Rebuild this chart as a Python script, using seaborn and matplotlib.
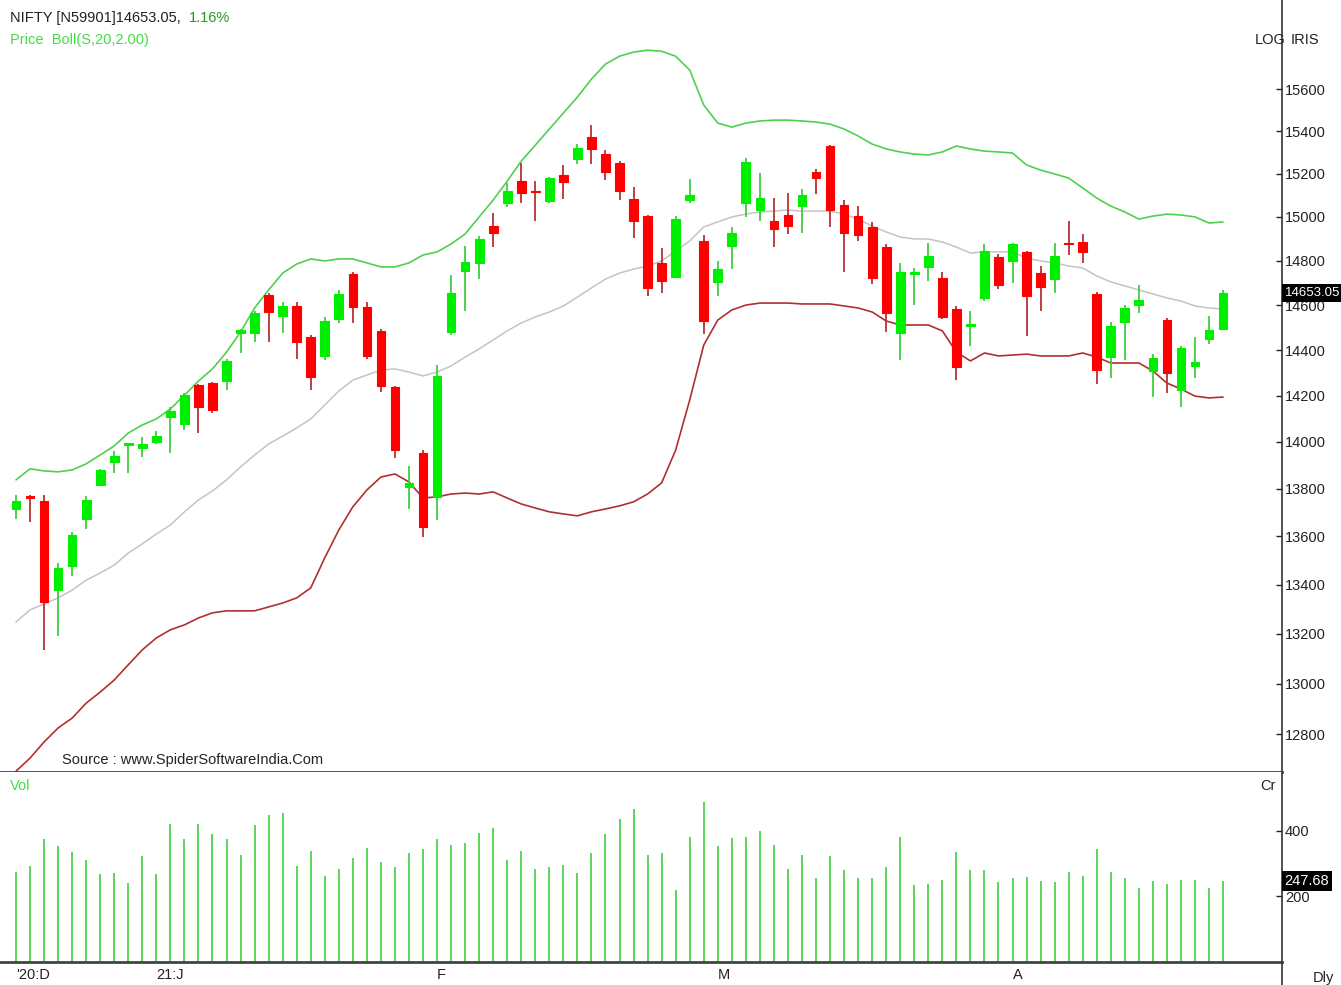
import matplotlib
matplotlib.use("Agg")
import matplotlib.pyplot as plt
import matplotlib.transforms as mtransforms
from matplotlib.lines import Line2D
from matplotlib.ticker import NullLocator
import numpy as np
import pandas as pd
import seaborn as sns

# NIFTY daily, 17 Dec 2020 - 27 Apr 2021
dates = [
    "2020-12-17", "2020-12-18", "2020-12-21", "2020-12-22", "2020-12-23", "2020-12-24",
    "2020-12-28", "2020-12-29", "2020-12-30", "2020-12-31",
    "2021-01-01", "2021-01-04", "2021-01-05", "2021-01-06", "2021-01-07", "2021-01-08",
    "2021-01-11", "2021-01-12", "2021-01-13", "2021-01-14", "2021-01-15", "2021-01-18",
    "2021-01-19", "2021-01-20", "2021-01-21", "2021-01-22", "2021-01-25", "2021-01-27",
    "2021-01-28", "2021-01-29",
    "2021-02-01", "2021-02-02", "2021-02-03", "2021-02-04", "2021-02-05", "2021-02-08",
    "2021-02-09", "2021-02-10", "2021-02-11", "2021-02-12", "2021-02-15", "2021-02-16",
    "2021-02-17", "2021-02-18", "2021-02-19", "2021-02-22", "2021-02-23", "2021-02-24",
    "2021-02-25", "2021-02-26",
    "2021-03-01", "2021-03-02", "2021-03-03", "2021-03-04", "2021-03-05", "2021-03-08",
    "2021-03-09", "2021-03-10", "2021-03-12", "2021-03-15", "2021-03-16", "2021-03-17",
    "2021-03-18", "2021-03-19", "2021-03-22", "2021-03-23", "2021-03-24", "2021-03-25",
    "2021-03-26", "2021-03-30", "2021-03-31",
    "2021-04-01", "2021-04-05", "2021-04-06", "2021-04-07", "2021-04-08", "2021-04-09",
    "2021-04-12", "2021-04-13", "2021-04-15", "2021-04-16", "2021-04-19", "2021-04-20",
    "2021-04-22", "2021-04-23", "2021-04-26", "2021-04-27",
]

opens = [13715, 13770, 13749, 13378, 13477, 13673, 13816, 13914, 13987, 13974,
         14000, 14108, 14077, 14246, 14255, 14264, 14476, 14476, 14645, 14551,
         14596, 14458, 14374, 14538, 14740, 14591, 14485, 14237, 13808, 13953,
         13766, 14480, 14753, 14790, 14958, 15064, 15166, 15120, 15074, 15194,
         15269, 15372, 15292, 15250, 15083, 15004, 14790, 14726, 15078, 14890,
         14704, 14867, 15064, 15032, 14981, 15009, 15050, 15208, 15330, 15055,
         15004, 14954, 14862, 14476, 14740, 14772, 14722, 14582, 14507, 14631,
         14817, 14799, 14840, 14744, 14717, 14880, 14885, 14650, 14369, 14525,
         14600, 14308, 14533, 14224, 14330, 14449, 14493]
highs = [13774, 13772, 13774, 13490, 13618, 13770, 13884, 13961, 13995, 14021,
         14047, 14151, 14211, 14251, 14259, 14360, 14493, 14573, 14654, 14614,
         14614, 14467, 14547, 14668, 14749, 14614, 14493, 14242, 13897, 13965,
         14334, 14735, 14867, 14913, 15018, 15157, 15250, 15166, 15185, 15240,
         15339, 15429, 15311, 15260, 15138, 15009, 14858, 15004, 15175, 14917,
         14799, 14954, 15274, 15204, 15088, 15111, 15129, 15222, 15334, 15078,
         15050, 14977, 14876, 14790, 14767, 14880, 14749, 14596, 14573, 14876,
         14830, 14880, 14844, 14776, 14880, 14981, 14922, 14659, 14525, 14600,
         14690, 14382, 14542, 14418, 14458, 14551, 14668]
lows = [13673, 13661, 13135, 13191, 13436, 13631, 13812, 13868, 13868, 13936,
        13991, 13953, 14051, 14038, 14125, 14224, 14387, 14436, 14436, 14476,
        14360, 14224, 14356, 14520, 14520, 14360, 14216, 13931, 13715, 13597,
        13669, 14467, 14573, 14717, 14862, 15046, 15064, 14981, 15064, 15083,
        15245, 15245, 15171, 15078, 14904, 14641, 14654, 14722, 15064, 14471,
        14641, 14762, 15000, 14981, 14862, 14922, 14926, 15106, 14954, 14749,
        14890, 14695, 14480, 14356, 14600, 14708, 14538, 14268, 14418, 14618,
        14672, 14699, 14462, 14573, 14654, 14826, 14790, 14251, 14277, 14356,
        14564, 14194, 14211, 14151, 14277, 14427, 14493]
closes = [13749, 13761, 13330, 13469, 13606, 13753, 13880, 13940, 13995, 13991,
          14025, 14133, 14202, 14151, 14138, 14352, 14489, 14564, 14569, 14596,
          14436, 14281, 14529, 14650, 14591, 14374, 14242, 13965, 13825, 13640,
          14286, 14654, 14794, 14899, 14926, 15120, 15111, 15115, 15180, 15162,
          15320, 15316, 15208, 15120, 14981, 14677, 14708, 14990, 15101, 14529,
          14762, 14926, 15255, 15088, 14945, 14958, 15101, 15180, 15032, 14926,
          14917, 14722, 14564, 14749, 14749, 14821, 14547, 14325, 14516, 14845,
          14690, 14876, 14641, 14681, 14821, 14876, 14840, 14312, 14507, 14587,
          14622, 14365, 14299, 14409, 14347, 14489, 14653.05]
volumes = [276, 294, 374, 353, 336, 310, 268, 273, 242, 323,
           268, 421, 374, 421, 392, 374, 328, 418, 448, 456,
           294, 340, 264, 285, 319, 348, 306, 289, 332, 345,
           374, 357, 362, 395, 408, 310, 340, 285, 289, 297,
           272, 332, 392, 438, 468, 328, 332, 221, 383, 489,
           353, 379, 383, 400, 357, 285, 328, 255, 323, 281,
           255, 255, 289, 383, 234, 238, 251, 336, 281, 281,
           243, 255, 259, 247, 243, 276, 264, 345, 276, 255,
           225, 246, 238, 251, 251, 225, 247.68]

# Bollinger (S,20,2.00) as drawn
boll_upper = [13838, 13885, 13876, 13872, 13880, 13906, 13944, 13983, 14038, 14073,
              14099, 14142, 14202, 14264, 14317, 14391, 14480, 14587, 14668, 14744,
              14785, 14808, 14799, 14808, 14808, 14790, 14772, 14772, 14790, 14826,
              14840, 14876, 14922, 15000, 15078, 15166, 15259, 15334, 15410, 15486,
              15562, 15648, 15720, 15758, 15778, 15787, 15782, 15758, 15691, 15524,
              15438, 15419, 15438, 15448, 15452, 15452, 15448, 15443, 15433, 15410,
              15377, 15339, 15316, 15302, 15292, 15288, 15302, 15330, 15316, 15306,
              15302, 15297, 15241, 15217, 15199, 15180, 15134, 15087, 15050, 15023,
              14990, 15004, 15013, 15009, 15000, 14972, 14977]
boll_mid = [13248, 13297, 13321, 13346, 13378, 13419, 13448, 13481, 13531, 13569,
            13610, 13648, 13703, 13753, 13791, 13838, 13893, 13944, 13991, 14025,
            14060, 14099, 14159, 14220, 14268, 14290, 14312, 14317, 14303, 14286,
            14303, 14330, 14369, 14405, 14445, 14485, 14520, 14547, 14569, 14596,
            14636, 14677, 14717, 14744, 14762, 14776, 14799, 14844, 14890, 14954,
            14977, 15000, 15013, 15023, 15027, 15032, 15027, 15027, 15027, 15013,
            14990, 14958, 14931, 14908, 14899, 14899, 14885, 14862, 14835, 14840,
            14840, 14840, 14812, 14799, 14790, 14776, 14767, 14731, 14704, 14686,
            14668, 14650, 14632, 14618, 14596, 14587, 14582]
boll_lower = [12655, 12706, 12769, 12824, 12863, 12922, 12966, 13014, 13075, 13135,
              13183, 13216, 13236, 13264, 13285, 13293, 13293, 13293, 13309, 13325,
              13346, 13387, 13511, 13627, 13724, 13795, 13850, 13863, 13829, 13761,
              13766, 13778, 13782, 13778, 13787, 13761, 13736, 13719, 13703, 13694,
              13686, 13703, 13715, 13728, 13745, 13778, 13825, 13965, 14181, 14422,
              14533, 14578, 14600, 14609, 14609, 14609, 14605, 14605, 14605, 14596,
              14587, 14569, 14529, 14511, 14511, 14511, 14485, 14391, 14352, 14387,
              14374, 14378, 14382, 14374, 14374, 14374, 14387, 14369, 14343, 14343,
              14343, 14308, 14255, 14229, 14198, 14190, 14194]

month_labels = ["'20:D", "21:J", "F", "M", "A"]
price_ticks = [12800, 13000, 13200, 13400, 13600, 13800, 14000, 14200,
               14400, 14600, 14800, 15000, 15200, 15400, 15600]
vol_ticks = [200, 400]

df = pd.DataFrame({
    "date": pd.to_datetime(dates), "open": opens, "high": highs, "low": lows,
    "close": closes, "vol": volumes,
    "upper": boll_upper, "mid": boll_mid, "lower": boll_lower,
})
df["x"] = np.arange(len(df))
up = df["close"] >= df["open"]
month_pos = df.groupby(df["date"].dt.to_period("M"))["x"].min().tolist()

sns.set_style("white")
plt.rcParams["font.family"] = ["Liberation Sans", "DejaVu Sans"]
FS = 10.5

W, H = 1341, 985
fig = plt.figure(figsize=(W / 100, H / 100), dpi=100)
right = 1282 / W
ax = fig.add_axes([0, 1 - 772 / H, right, 772 / H])
axv = fig.add_axes([0, 1 - 962 / H, right, 190 / H])

GREEN = "#00ee00"
GREEN_WICK = "#3fcf3f"
RED = "#ff0000"
RED_WICK = "#b83232"

# candles
ax.vlines(df.x[up], df.low[up], df.high[up], color=GREEN_WICK, lw=1.3, zorder=3)
ax.vlines(df.x[~up], df.low[~up], df.high[~up], color=RED_WICK, lw=1.3, zorder=3)
body_lo = df[["open", "close"]].min(axis=1)
body_h = (df["close"] - df["open"]).abs()
ax.bar(df.x[up], body_h[up], bottom=body_lo[up], width=0.62,
       color=GREEN, edgecolor=GREEN, lw=0.8, zorder=4)
ax.bar(df.x[~up], body_h[~up], bottom=body_lo[~up], width=0.62,
       color=RED, edgecolor=RED, lw=0.8, zorder=4)

# bands
sns.lineplot(data=df, x="x", y="upper", ax=ax, color="#4fd04f", lw=1.2, zorder=2)
sns.lineplot(data=df, x="x", y="mid", ax=ax, color="#c4c4c4", lw=1.1, zorder=2)
sns.lineplot(data=df, x="x", y="lower", ax=ax, color="#b03030", lw=1.2, zorder=2)

ax.set_yscale("log")
ax.set_ylim(12652, 16032)
ax.set_xlim(-1.14, 90.2)
ax.yaxis.set_minor_locator(NullLocator())
ax.set_yticks(price_ticks)
ax.set_yticklabels([str(t) for t in price_ticks])
ax.yaxis.tick_right()
ax.tick_params(axis="y", direction="in", length=4, width=1, pad=2,
               labelsize=FS, colors="#222222")
ax.set_xticks([])
ax.set_xlabel("")
ax.set_ylabel("")
for s in ["left", "top"]:
    ax.spines[s].set_visible(False)
ax.spines["right"].set_color("#333333")
ax.spines["right"].set_linewidth(1.2)
ax.spines["bottom"].set_color("#444444")
ax.spines["bottom"].set_linewidth(2)

# volume
axv.vlines(df.x, 0, df.vol, color="#3fcf3f", lw=1.2)
axv.set_xlim(-1.14, 90.2)
axv.set_ylim(0, 580)
axv.yaxis.tick_right()
axv.set_yticks(vol_ticks)
axv.set_yticklabels([str(t) for t in vol_ticks])
axv.tick_params(axis="y", direction="in", length=4, width=1, pad=2,
                labelsize=FS, colors="#222222")
axv.set_xticks(month_pos)
axv.set_xticklabels(month_labels, ha="left")
axv.tick_params(axis="x", length=0, pad=4, labelsize=FS, colors="#222222")
for s in ["left", "top"]:
    axv.spines[s].set_visible(False)
axv.spines["right"].set_color("#333333")
axv.spines["right"].set_linewidth(1.2)
axv.spines["bottom"].set_color("#444444")
axv.spines["bottom"].set_linewidth(2)

# last value boxes
tr = mtransforms.blended_transform_factory(ax.transAxes, ax.transData)
ax.text(1.002, closes[-1], "14653.05", transform=tr, ha="left", va="center",
        color="white", fontsize=9.5, clip_on=False, zorder=10,
        bbox=dict(fc="black", ec="none", pad=2))
trv = mtransforms.blended_transform_factory(axv.transAxes, axv.transData)
axv.text(1.002, volumes[-1], "247.68", transform=trv, ha="left", va="center",
         color="white", fontsize=FS, clip_on=False, zorder=10,
         bbox=dict(fc="black", ec="none", pad=2))

# right axis line below the volume panel
fig.add_artist(Line2D([right, right], [0, 1 - 962 / H], color="#333333", lw=1.2))


def ftext(px, py, s, **kw):
    return fig.text(px / W, 1 - py / H, s, va="center", fontsize=FS, **kw)


title = ftext(10, 18, "NIFTY [N59901]14653.05,", color="#222222")
fig.canvas.draw()
bb = title.get_window_extent(fig.canvas.get_renderer())
ftext(bb.x1 + 8, 18, "1.16%", color="#1f9a1f")
ftext(10, 40, "Price  Boll(S,20,2.00)", color="#44dd44")
ftext(1255, 40, "LOG", color="#222222")
ftext(1291, 40, "IRIS", color="#222222")
ftext(62, 760, "Source : www.SpiderSoftwareIndia.Com", color="#222222")
ftext(10, 786, "Vol", color="#44dd44")
ftext(1260, 786, "Cr", color="#222222")
ftext(1313, 978, "Dly", color="#222222")

fig.savefig("out.png", dpi=100)
